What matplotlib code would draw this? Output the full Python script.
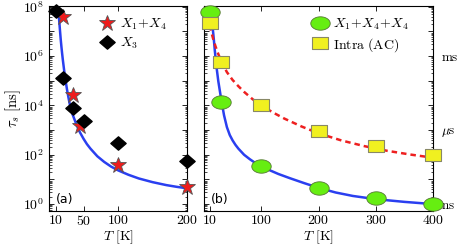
import matplotlib
matplotlib.use('Agg')
import matplotlib.pyplot as plt
import matplotlib.ticker as mticker
from matplotlib.path import Path
import numpy as np

plt.rcParams['font.family'] = 'serif'
plt.rcParams['font.serif'] = ['cmr10']
plt.rcParams['mathtext.fontset'] = 'cm'
plt.rcParams['axes.formatter.use_mathtext'] = True
plt.rcParams['axes.unicode_minus'] = False

# panel (a)
T_star = [20, 35, 45, 100, 200]
tau_star = [3.9e7, 2.6e4, 1.5e3, 37, 4.8]
T_diam = [10, 20, 35, 50, 100, 200]
tau_diam = [6.8e7, 1.26e5, 7.9e3, 2.4e3, 310, 54]
# fit line (log10 of tau)
T_fit_a = [13, 14, 15, 16, 17, 18, 19, 20, 22, 24, 26, 28, 30, 32, 34, 36, 40, 45, 50, 55,
           60, 70, 80, 90, 100, 115, 130, 150, 170, 185, 200]
logtau_fit_a = [8.05, 7.70, 7.36, 7.01, 6.67, 6.38, 6.11, 5.86, 5.41, 5.01, 4.66, 4.35, 4.06,
                3.83, 3.65, 3.50, 3.21, 2.90, 2.65, 2.43, 2.25, 1.94, 1.71, 1.52, 1.37, 1.19,
                1.04, 0.89, 0.77, 0.70, 0.64]

# panel (b)
T_b = [10, 30, 100, 200, 300, 400]
tau_circ = [6.2e7, 1.4e4, 34, 4.4, 1.7, 1.0]
tau_sq = [2.2e7, 6e5, 1.05e4, 940, 235, 100]
T_fit_b1 = [12, 13, 14, 15, 16, 17, 19, 21.5, 25, 30, 35, 40, 45, 50, 55, 60, 70, 80, 90,
            100, 115, 130, 150, 175, 200, 230, 260, 300, 350, 400]
logtau_fit_b1 = [8.05, 7.75, 7.45, 7.18, 6.95, 6.72, 6.20, 5.62, 4.98, 4.25, 3.60, 3.12, 2.80,
                 2.58, 2.40, 2.25, 2.00, 1.82, 1.66, 1.53, 1.37, 1.22, 1.05, 0.85, 0.66, 0.47,
                 0.33, 0.20, 0.09, 0.0]
T_fit_b2 = [10, 13, 16, 20, 25, 30, 40, 50, 60, 70, 85, 100, 120, 140, 170, 200, 240, 280,
            320, 360, 400]
logtau_fit_b2 = [7.25, 6.95, 6.70, 6.40, 6.08, 5.80, 5.35, 5.03, 4.78, 4.55, 4.25, 4.00, 3.72,
                 3.47, 3.15, 2.87, 2.58, 2.35, 2.16, 2.01, 1.88]

# stretched markers (the original figure was squashed)
th = np.linspace(0, 2 * np.pi, 60)
ellipse = Path(np.column_stack([1.45 * np.cos(th), np.sin(th)]), closed=True)
rect = Path([(-1.4, -1), (1.4, -1), (1.4, 1), (-1.4, 1), (-1.4, -1)], closed=True)
diam = Path([(0, -1), (1.15, 0), (0, 1), (-1.15, 0), (0, -1)], closed=True)

math_int = mticker.FuncFormatter(lambda v, p: r'$%d$' % v)

fig = plt.figure(figsize=(4.63, 2.46), dpi=100)
ax1 = fig.add_axes([49 / 463, 35 / 246, 138 / 463, 205 / 246])
ax2 = fig.add_axes([204 / 463, 35 / 246, 229 / 463, 205 / 246])

ylim = (10 ** -0.28, 10 ** 8.03)

ax1.plot(T_fit_a, 10 ** np.array(logtau_fit_a), color='#2a3ff0', lw=1.8, zorder=2)
ax1.plot(T_star, tau_star, ls='none', marker='*', ms=12, mfc='#ee1c1c', mec='#555555',
         mew=0.6, label=r'$X_1\!+\!X_4$', zorder=3, clip_on=False)
ax1.plot(T_diam, tau_diam, ls='none', marker=diam, ms=11, mfc='black', mec='black',
         label=r'$X_3$', zorder=3, clip_on=False)
ax1.set_yscale('log')
ax1.set_xlim(0, 200)
ax1.set_ylim(*ylim)
ax1.set_xticks([10, 50, 100, 200])
ax1.xaxis.set_major_formatter(math_int)
ax1.yaxis.set_major_locator(mticker.LogLocator(base=10, numticks=20))
ax1.yaxis.set_minor_locator(mticker.LogLocator(base=10, subs=np.arange(2, 10), numticks=20))
ax1.yaxis.set_major_formatter(mticker.FuncFormatter(
    lambda v, p: r'$10^{%d}$' % round(np.log10(v)) if round(np.log10(v)) % 2 == 0 else ''))
ax1.yaxis.set_minor_formatter(mticker.NullFormatter())
ax1.set_xlabel(r'$T\ [\mathrm{K}]$', fontsize=10)
ax1.xaxis.set_label_coords(0.5, -0.083)
ax1.set_ylabel(r'$\tau_s\ [\mathrm{ns}]$', fontsize=10.5)
ax1.yaxis.set_label_coords(-0.185, 0.5)
ax1.text(0.05, 0.04, '(a)', transform=ax1.transAxes, fontsize=9, family='DejaVu Sans')
ax1.legend(loc='upper left', bbox_to_anchor=(0.3, 0.99), frameon=False, fontsize=10,
           handletextpad=0.3, borderaxespad=0.2, labelspacing=0.3, handlelength=1.2)

ax2.plot(T_fit_b1, 10 ** np.array(logtau_fit_b1), color='#2a3ff0', lw=1.8, zorder=2)
ax2.plot(T_fit_b2, 10 ** np.array(logtau_fit_b2), color='#ee2020', lw=1.8,
         ls=(0, (2.2, 1.6)), zorder=2)
ax2.plot(T_b, tau_circ, ls='none', marker=ellipse, ms=14, mfc='#66ee11', mec='#557733',
         mew=0.6, label=r'$X_1\!+\!X_4\!+\!X_4$', zorder=3, clip_on=False)
ax2.plot(T_b, tau_sq, ls='none', marker=rect, ms=12, mfc='#f0f020', mec='#888866',
         mew=0.8, label=r'$\mathrm{Intra\ (AC)}$', zorder=3, clip_on=False)
ax2.set_yscale('log')
ax2.set_xlim(0, 400)
ax2.set_ylim(*ylim)
ax2.set_xticks([10, 100, 200, 300, 400])
ax2.xaxis.set_major_formatter(math_int)
ax2.yaxis.set_major_locator(mticker.LogLocator(base=10, numticks=20))
ax2.yaxis.set_minor_locator(mticker.LogLocator(base=10, subs=np.arange(2, 10), numticks=20))
unit_names = {0: r'$\mathrm{ns}$', 3: r'$\mu\mathrm{s}$', 6: r'$\mathrm{ms}$'}
ax2.yaxis.set_major_formatter(mticker.FuncFormatter(
    lambda v, p: unit_names.get(int(round(np.log10(v))), '')))
ax2.yaxis.set_minor_formatter(mticker.NullFormatter())
ax2.set_xlabel(r'$T\ [\mathrm{K}]$', fontsize=10)
ax2.xaxis.set_label_coords(0.5, -0.083)
ax2.text(0.03, 0.04, '(b)', transform=ax2.transAxes, fontsize=9, family='DejaVu Sans')
ax2.legend(loc='upper left', bbox_to_anchor=(0.435, 0.99), frameon=False, fontsize=10,
           handletextpad=0.3, borderaxespad=0.2, labelspacing=0.3, handlelength=1.2)

for ax in (ax1, ax2):
    ax.tick_params(which='both', direction='in', top=True, right=True, labelsize=10)
    ax.tick_params(which='major', length=3.5, width=0.6)
    ax.tick_params(which='minor', length=1.8, width=0.5)
    ax.tick_params(axis='x', pad=2.5)
    for s in ax.spines.values():
        s.set_linewidth(0.8)
ax2.tick_params(axis='y', labelleft=False, labelright=True, pad=5.5, labelsize=9.5)

fig.savefig('out.png', dpi=100)
